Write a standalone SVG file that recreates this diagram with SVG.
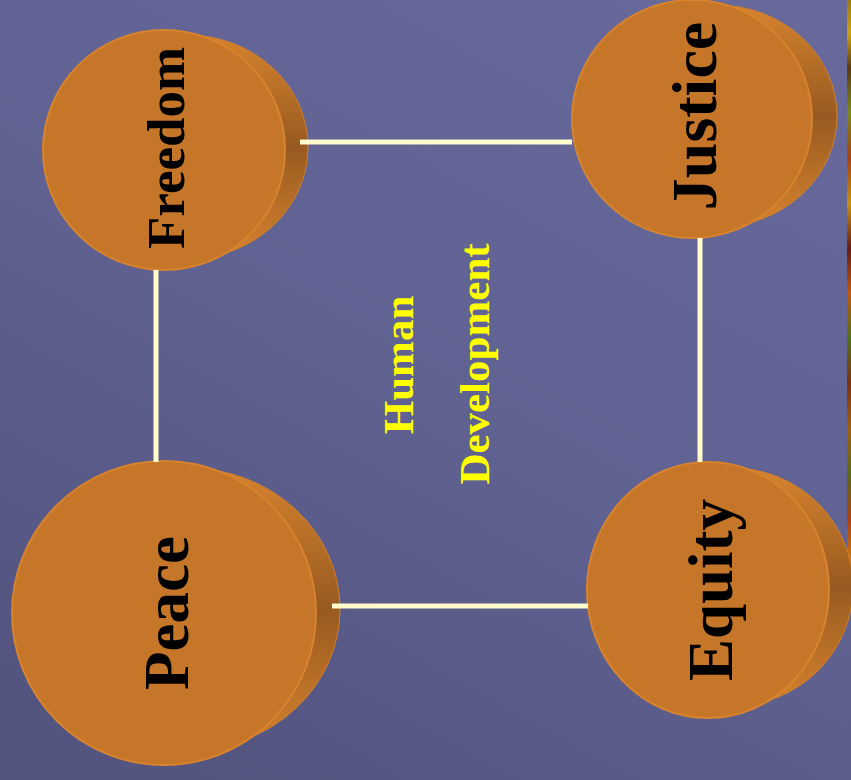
<svg xmlns="http://www.w3.org/2000/svg" width="851" height="780" viewBox="0 0 851 780">
  <defs>
    <linearGradient id="bg" x1="0.85" y1="0" x2="0.25" y2="1">
      <stop offset="0" stop-color="#67699b"/>
      <stop offset="0.5" stop-color="#606292"/>
      <stop offset="1" stop-color="#535480"/>
    </linearGradient>
    <linearGradient id="side" x1="0" y1="0" x2="0" y2="1">
      <stop offset="0" stop-color="#d6832e"/>
      <stop offset="0.5" stop-color="#985a20"/>
      <stop offset="1" stop-color="#d6832e"/>
    </linearGradient>
    <linearGradient id="strip" x1="0" y1="0" x2="0" y2="1">
      <stop offset="0" stop-color="#9a7a10"/>
      <stop offset="0.06" stop-color="#d0a010"/>
      <stop offset="0.12" stop-color="#5a3a10"/>
      <stop offset="0.2" stop-color="#7a8a18"/>
      <stop offset="0.28" stop-color="#a84010"/>
      <stop offset="0.36" stop-color="#c89010"/>
      <stop offset="0.44" stop-color="#6a1a10"/>
      <stop offset="0.52" stop-color="#c05810"/>
      <stop offset="0.6" stop-color="#507018"/>
      <stop offset="0.68" stop-color="#803010"/>
      <stop offset="0.76" stop-color="#a06010"/>
      <stop offset="0.84" stop-color="#5a6a18"/>
      <stop offset="0.92" stop-color="#b04010"/>
      <stop offset="1" stop-color="#c88010"/>
    </linearGradient>
    <style>
      .back { fill: url(#side); stroke: #d0802c; stroke-width: 1; }
      .face { fill: #c57628; stroke: #d8832e; stroke-width: 2; }
      .lbl { font-family: "Liberation Serif", "Times New Roman", serif; font-weight: bold; fill: #000000; text-anchor: middle; }
      .center { font-family: "Liberation Serif", "Times New Roman", serif; font-weight: bold; fill: #ffff00; text-anchor: middle; font-size: 43px; }
      .conn { stroke: #fffbcc; stroke-width: 5; fill: none; }
    </style>
  </defs>

  <rect x="0" y="0" width="851" height="780" fill="url(#bg)"/>
  <rect x="847" y="0" width="4" height="565" fill="url(#strip)"/>

  <g id="freedom">
    <ellipse class="back" cx="187" cy="147" rx="121" ry="112"/>
    <ellipse class="face" cx="164" cy="150" rx="121" ry="120"/>
    <text class="lbl" font-size="53" transform="translate(184,148) rotate(-90)">Freedom</text>
  </g>

  <g id="justice">
    <ellipse class="back" cx="717" cy="116" rx="120" ry="111"/>
    <ellipse class="face" cx="692" cy="119" rx="120" ry="119"/>
    <text class="lbl" font-size="64" transform="translate(716,116) rotate(-90)">Justice</text>
  </g>

  <g id="peace">
    <ellipse class="back" cx="188" cy="609" rx="152" ry="141"/>
    <ellipse class="face" cx="164" cy="613" rx="152" ry="152"/>
    <text class="lbl" font-size="63" transform="translate(188,613) rotate(-90)">Peace</text>
  </g>

  <g id="equity">
    <ellipse class="back" cx="732" cy="587" rx="121" ry="119"/>
    <ellipse class="face" cx="708" cy="590" rx="121" ry="128"/>
    <text class="lbl" font-size="63" transform="translate(732,590) rotate(-90)">Equity</text>
  </g>

  <g id="center-label">
    <text class="center" transform="translate(413,365) rotate(-90)">Human</text>
    <text class="center" transform="translate(489,364) rotate(-90)">Development</text>
  </g>

  <g id="connectors">
    <line class="conn" x1="300" y1="142" x2="572" y2="142"/>
    <line class="conn" x1="156" y1="270" x2="156" y2="462"/>
    <line class="conn" x1="700" y1="238" x2="700" y2="462"/>
    <line class="conn" x1="332" y1="606" x2="588" y2="606"/>
  </g>
</svg>
